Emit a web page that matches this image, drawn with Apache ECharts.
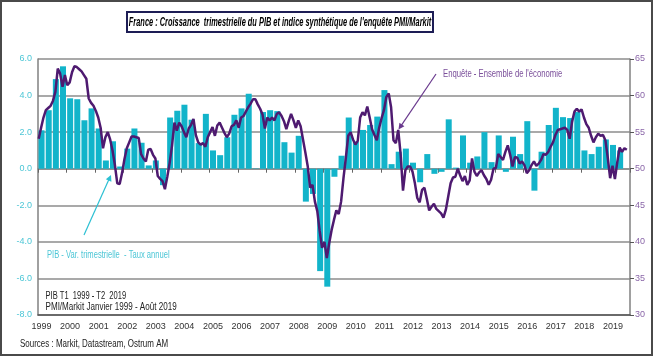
<!DOCTYPE html>
<html>
<head>
<meta charset="utf-8">
<script src="https://cdn.jsdelivr.net/npm/echarts@6/dist/echarts.min.js"></script>
<style>
html,body{margin:0;padding:0;background:#fff;}
#c{width:654px;height:357px;}
</style>
</head>
<body>
<div id="c"></div>
<script>
// ---- Data ----
const startYear = 1999;
const yearLabels = ['1999','2000','2001','2002','2003','2004','2005','2006','2007','2008','2009','2010','2011','2012','2013','2014','2015','2016','2017','2018','2019'];
// PIB : variation trimestrielle, taux annualisé (T1 1999 - T2 2019)
const pibQoQ = [
  2.1, 3.2, 4.9, 5.6,
  3.85, 3.8, 2.65, 3.3,
  2.2, 0.45, 1.5, 0.12,
  1.1, 2.2, 1.42, 0.18,
  0.45, -0.9, 2.8, 3.17,
  3.5, 2.68, 1.4, 3.0,
  1.0, 0.74, 1.72, 2.95,
  3.3, 4.1, 0.02, 3.1,
  3.2, 3.15, 1.45, 0.88,
  1.8, -1.8, -1.38, -5.6,
  -6.45, -0.44, 0.71, 2.8,
  1.48, 2.12, 2.39, 2.85,
  4.3, 0.25, 0.93, 1.1,
  0.33, -0.74, 0.8, -0.28,
  -0.17, 2.7, 0.06, 1.82,
  0.33, 0.67, 2.0, 0.36,
  1.82, -0.17, 1.75, 0.8,
  2.6, -1.2, 0.93, 2.39,
  3.33, 2.82, 2.77, 3.1,
  1.0, 0.8, 1.2, 1.6,
  1.3, 1.0
];
// PMI/Markit composite (Janvier 1999 - Août 2019), mensuel
const pmi = [
  54.1, 55.6, 57.0, 58.0, 58.3, 58.6, 59.3, 60.5, 63.7, 63.0, 61.2, 62.8,
  61.4, 61.8, 63.2, 64.0, 63.9, 63.6, 63.3, 62.8, 62.3, 59.6, 59.0, 58.6,
  57.9, 57.0, 55.6, 52.8, 54.3, 55.0, 54.0, 52.5, 50.5, 48.0, 47.9, 49.4,
  51.3, 52.8, 53.6, 54.4, 54.4, 54.3, 54.2, 52.0, 51.4, 51.0, 52.6, 52.7,
  51.9, 51.4, 49.0, 48.6, 48.3, 47.2, 48.9, 50.8, 53.2, 56.3, 55.2, 56.3,
  55.8, 55.0, 54.3, 55.5, 56.0, 56.8, 54.6, 53.6, 53.3, 53.5, 53.0, 54.3,
  55.0, 55.7, 54.5, 55.9, 56.3, 55.6, 54.9, 54.3, 54.8, 55.8, 56.0, 56.6,
  55.6, 57.0, 57.2, 57.8, 58.4, 58.9, 59.5, 59.5, 58.8, 58.2, 57.4, 55.5,
  57.0, 56.6, 57.0, 56.6, 57.5, 57.7, 57.2, 56.5, 55.4, 56.5, 57.5, 56.6,
  55.6, 56.6, 55.8, 54.0, 52.2, 50.3, 47.4, 47.8, 45.5, 44.2, 41.5, 39.2,
  40.0, 37.8, 39.8, 41.6, 43.0, 44.3, 43.8, 45.5, 48.7, 51.5, 54.5, 55.0,
  54.0, 53.3, 53.8, 57.0, 57.7, 57.3, 58.5, 57.0, 55.4, 54.6, 53.9, 55.6,
  56.9, 58.0, 59.8, 60.3, 58.4, 53.9, 53.5, 55.3, 52.0, 47.0, 49.8, 50.3,
  50.3, 49.6, 48.0, 46.0, 45.4, 47.1, 47.4, 45.9, 44.3, 44.8, 45.2, 44.5,
  44.2, 43.9, 43.3, 44.4, 46.2, 48.0, 48.8, 48.9, 50.0, 49.1, 48.3, 49.0,
  47.8, 48.4, 51.4, 49.6, 49.0, 49.5, 49.8, 49.1, 48.6, 47.8, 48.5, 50.0,
  50.1, 52.0, 51.6, 51.2, 52.3, 53.2, 51.9, 50.3, 51.6, 51.5, 50.7, 51.0,
  50.5, 49.4, 49.8, 50.5, 51.0, 50.4, 50.7, 51.2, 52.0, 51.9, 52.3, 53.0,
  53.6, 54.6, 55.3, 55.4, 55.5, 55.6, 55.3, 54.1, 56.4, 57.8, 58.2, 57.8,
  58.1, 57.0, 56.1, 55.6, 54.5, 53.6, 54.3, 54.8, 54.5, 54.6, 53.9, 51.5,
  48.7, 50.4, 48.6, 50.9, 52.9, 52.3, 52.8, 52.6
];
const leftTicks = { min: -8, max: 6, interval: 2 };
const rightTicks = { min: 30, max: 65, interval: 5 };

// ---- Build series data (positions on a year scale) ----
const barData = pibQoQ.map((v, i) => [startYear + i * 0.25 + 0.125, v]);
const lineData = pmi.map((v, i) => [startYear + (i + 0.3) / 12, v]);

const FONT = "'Liberation Sans','Arial',sans-serif";
const cyan = '#12B4CA';
const purple = '#4E1A70';

function label(text, x, y, size, color, sx, align, extra) {
  return {
    type: 'text', x: x, y: y, scaleX: sx, z: 101,
    style: { text: text, font: (extra || '') + size + 'px ' + FONT, fill: color, textAlign: align || 'left', textVerticalAlign: 'middle' }
  };
}

const chart = echarts.init(document.getElementById('c'), null, { renderer: 'canvas' });
chart.setOption({
  animation: false,
  backgroundColor: '#ffffff',
  grid: { left: 38, right: 24, top: 59, bottom: 42, containLabel: false },
  xAxis: [
    {
      type: 'value', min: 1999, max: 2019.72, interval: 1,
      axisLine: { show: true, onZero: false, lineStyle: { color: '#555', width: 1.5 } },
      axisTick: { show: false },
      splitLine: { show: false },
      axisLabel: {
        margin: 7, fontSize: 9, color: '#333', fontFamily: FONT,
        padding: [0, 0, 0, 7],
        showMaxLabel: false,
        formatter: v => (Math.abs(v - Math.round(v)) < 1e-6 ? yearLabels[Math.round(v) - startYear] || '' : '')
      }
    },
    {
      type: 'value', min: 1999, max: 2019.72, interval: 1, position: 'bottom',
      axisLine: { show: true, onZero: true, onZeroAxisIndex: 0, lineStyle: { color: '#8a8a8a', width: 1.5 } },
      axisTick: { show: true, length: 4, lineStyle: { color: '#666', width: 1 } },
      axisLabel: { show: false },
      splitLine: { show: false }
    }
  ],
  yAxis: [
    {
      type: 'value', min: leftTicks.min, max: leftTicks.max, interval: leftTicks.interval,
      axisLine: { show: true, lineStyle: { color: '#808080', width: 1.5 } },
      axisTick: { show: false },
      splitLine: { show: true, lineStyle: { color: '#8c8c8c', width: 1.5 } },
      axisLabel: { margin: 6, fontSize: 9, color: '#4CC6D6', fontFamily: FONT, formatter: v => v.toFixed(1) }
    },
    {
      type: 'value', min: rightTicks.min, max: rightTicks.max, interval: rightTicks.interval, position: 'right',
      axisLine: { show: true, lineStyle: { color: '#808080', width: 1.5 } },
      axisTick: { show: true, length: 4, lineStyle: { color: '#555' } },
      splitLine: { show: false },
      axisLabel: { margin: 5, fontSize: 9, color: '#8A66A8', fontFamily: FONT }
    }
  ],
  series: [
    {
      type: 'bar', name: 'PIB', xAxisIndex: 0, yAxisIndex: 0,
      data: barData, barWidth: 6,
      itemStyle: { color: cyan }
    },
    {
      type: 'line', name: 'PMI', xAxisIndex: 0, yAxisIndex: 1,
      data: lineData, symbol: 'none', smooth: false,
      lineStyle: { color: purple, width: 2.5 }
    }
  ],
  graphic: [
    { type: 'rect', shape: { x: 1, y: 1, width: 651, height: 354 }, style: { fill: 'none', stroke: '#4a4a4a', lineWidth: 2 }, z: 100 },
    { type: 'rect', shape: { x: 127, y: 12, width: 306, height: 20 }, style: { fill: '#fff', stroke: '#1d1d55', lineWidth: 2 }, z: 100 },
    label("France : Croissance  trimestrielle du PIB et indice synthétique de l'enquête PMI/Markit", 280, 22.5, 13, '#000', 0.57, 'center', 'italic bold '),
    label('PIB - Var. trimestrielle  - Taux annuel', 47, 254.5, 11, '#4CC6D6', 0.69),
    label('PIB T1  1999 - T2  2019', 45.5, 296, 10.5, '#222', 0.72),
    label('PMI/Markit Janvier 1999 - Août 2019', 45.5, 307.5, 10.5, '#222', 0.77),
    label('Sources : Markit, Datastream, Ostrum AM', 20, 344, 10.5, '#222', 0.76),
    label("Enquête - Ensemble de l'économie", 443, 73.5, 11, '#7A4E9A', 0.70),
    { type: 'polyline', z: 101, shape: { points: [[84, 235], [110, 177]] }, style: { stroke: '#2CC0D3', lineWidth: 1.2 } },
    { type: 'polygon', z: 101, shape: { points: [[111, 175], [111.4, 181.8], [105.8, 179.3]] }, style: { fill: '#2CC0D3' } },
    { type: 'polyline', z: 101, shape: { points: [[436, 74], [399.8, 127.6]] }, style: { stroke: '#6A3A8E', lineWidth: 1.2 } },
    { type: 'polygon', z: 101, shape: { points: [[398.5, 129.5], [404.4, 126.2], [399.4, 122.8]] }, style: { fill: '#6A3A8E' } }
  ]
});
</script>
</body>
</html>
